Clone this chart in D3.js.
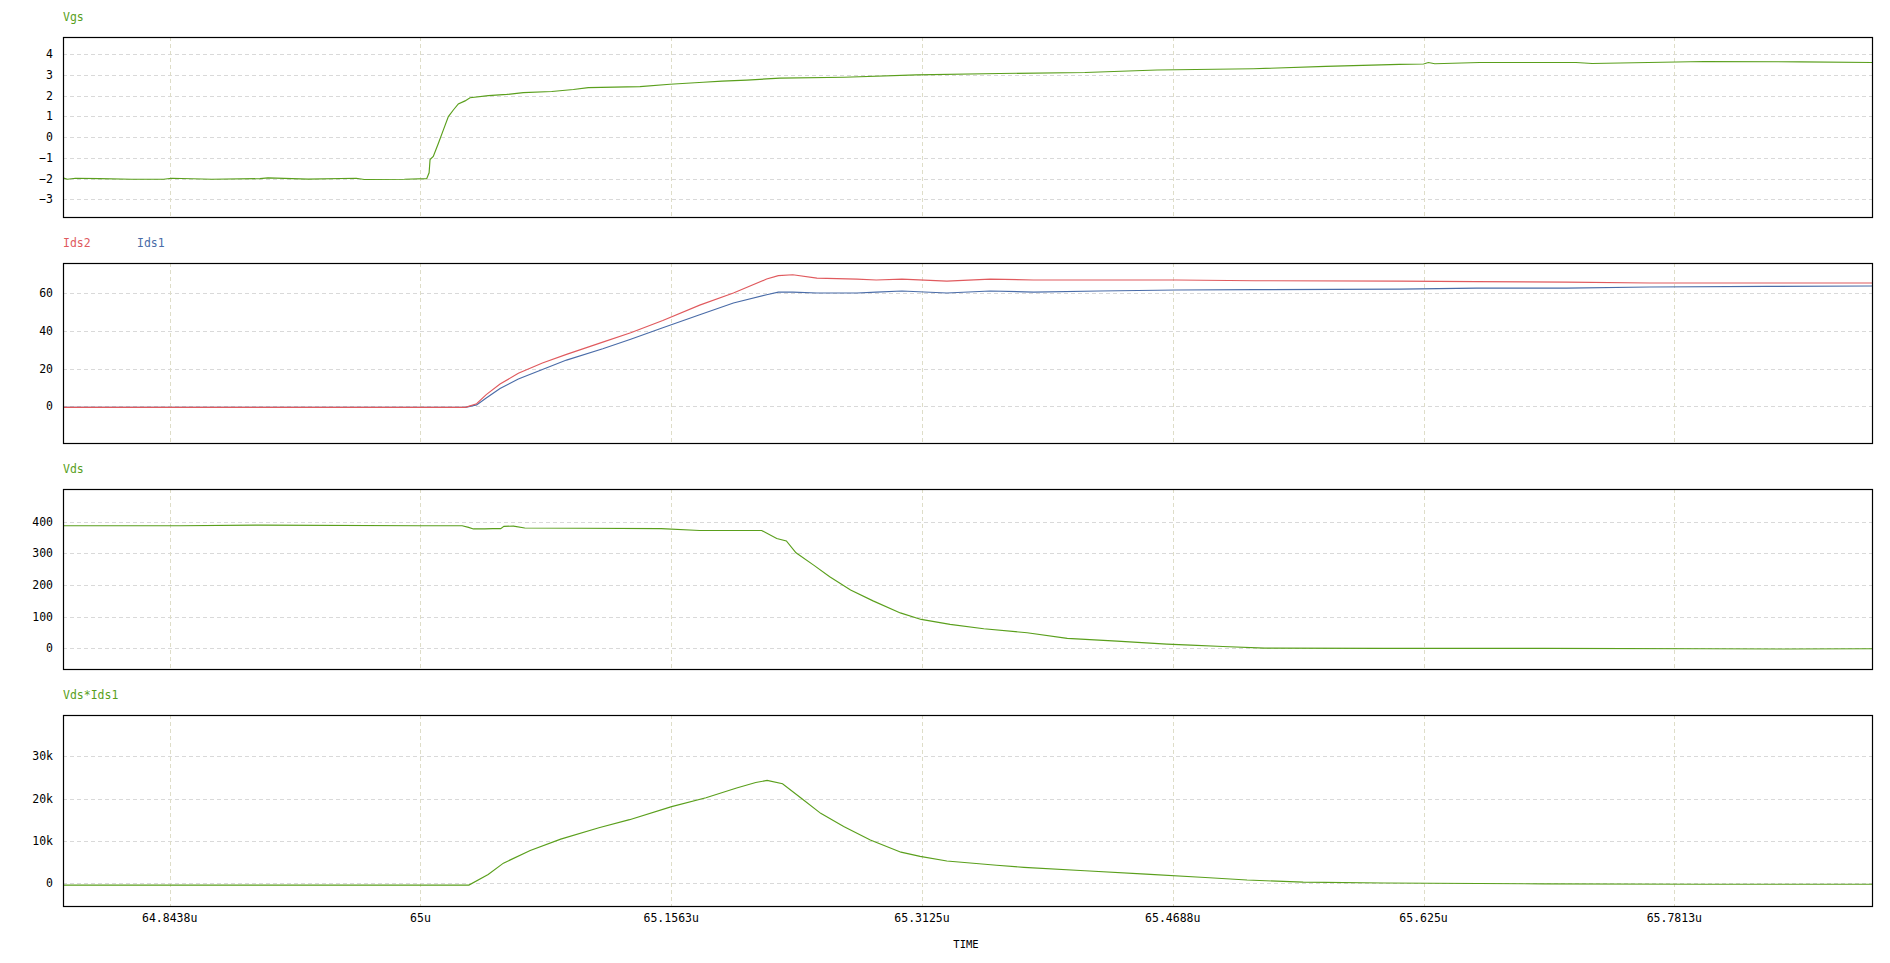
<!DOCTYPE html>
<html>
<head>
<meta charset="utf-8">
<script src="https://cdn.jsdelivr.net/npm/d3@7"></script>
<style>
  html, body { margin: 0; padding: 0; background: #fff; }
  svg { display: block; }
  text { font-family: "DejaVu Sans Mono", monospace; font-size: 11.5px; }
</style>
</head>
<body>
<svg id="chart" width="1890" height="963"></svg>
<script>
// ---------- DATA (time in microseconds) ----------
const xTickValues = [64.84375, 65, 65.15625, 65.3125, 65.46875, 65.625, 65.78125];
const xTickLabels = ["64.8438u", "65u", "65.1563u", "65.3125u", "65.4688u", "65.625u", "65.7813u"];

const vgsTicks = [-3, -2, -1, 0, 1, 2, 3, 4];
const idsTicks = [0, 20, 40, 60];
const vdsTicks = [0, 100, 200, 300, 400];
const powTicks = [0, 10000, 20000, 30000];
const powTickLabels = ["0", "10k", "20k", "30k"];

const vgsT = [64.7773, 64.780, 64.785, 64.80, 64.82, 64.84, 64.845, 64.87, 64.90, 64.905, 64.93, 64.96, 64.965, 64.99, 65.0039, 65.0054, 65.006, 65.008, 65.0112, 65.0143, 65.0174, 65.0205, 65.0236, 65.0278, 65.0309, 65.0423, 65.0538, 65.0641, 65.0818, 65.0953, 65.1046, 65.1368, 65.1555, 65.1762, 65.188, 65.2033, 65.224, 65.264, 65.309, 65.361, 65.414, 65.459, 65.519, 65.564, 65.61, 65.625, 65.628, 65.632, 65.66, 65.72, 65.73, 65.80, 65.86, 65.9044];
const vgsV = [-1.96, -2.03, -1.98, -2.0, -2.03, -2.03, -1.98, -2.03, -2.0, -1.96, -2.02, -1.98, -2.04, -2.03, -2.0, -1.72, -1.08, -0.93, -0.29, 0.35, 0.99, 1.31, 1.6, 1.75, 1.9, 2.0, 2.06, 2.15, 2.2, 2.3, 2.39, 2.44, 2.55, 2.65, 2.7, 2.75, 2.85, 2.89, 3.0, 3.07, 3.12, 3.24, 3.3, 3.41, 3.51, 3.53, 3.6, 3.54, 3.6, 3.6, 3.55, 3.65, 3.63, 3.6];

const idsT = [64.7773, 65.028, 65.035, 65.041, 65.0496, 65.061, 65.076, 65.091, 65.1136, 65.131, 65.151, 65.174, 65.195, 65.2157, 65.223, 65.232, 65.247, 65.272, 65.284, 65.30, 65.328, 65.355, 65.382, 65.423, 65.471, 65.52, 65.61, 65.658, 65.714, 65.766, 65.839, 65.9044];
const ids2V = [-0.5, -0.5, 1.4, 6.2, 11.8, 17.5, 23, 27.5, 34, 39, 45.5, 53.6, 60, 67.4, 69.2, 69.7, 67.9, 67.4, 66.9, 67.4, 66.3, 67.4, 66.9, 66.9, 66.9, 66.5, 66.3, 66, 65.8, 65.3, 65.3, 65.3];
const ids1V = [-0.5, -0.5, 0.8, 4.4, 9.4, 14.5, 19.5, 24.5, 30.5, 35.5, 41.6, 48.5, 54.7, 59.1, 60.5, 60.5, 60, 60, 60.5, 61.1, 60, 61.1, 60.5, 61.1, 61.6, 61.8, 62.1, 62.6, 62.6, 63.2, 63.5, 63.7];

const vdsT = [64.7773, 64.85, 64.90, 65.0, 65.026, 65.03, 65.033, 65.04, 65.045, 65.05, 65.052, 65.058, 65.065, 65.10, 65.15, 65.174, 65.2126, 65.222, 65.228, 65.234, 65.245, 65.255, 65.268, 65.282, 65.299, 65.312, 65.33, 65.351, 65.378, 65.403, 65.434, 65.465, 65.48, 65.50, 65.526, 65.60, 65.70, 65.80, 65.85, 65.9044];
const vdsV = [387, 387, 389, 387, 387, 382, 377, 377, 378, 378, 385, 386, 380, 379, 378, 372, 372, 347, 339, 301.6, 262.8, 226, 184, 150, 112, 91.4, 75.7, 62, 49.3, 31.5, 23, 13.6, 10.4, 6, 1, 0, 0, -1, -2, -1];

const powT = [64.7773, 64.84, 64.90, 64.95, 65.0302, 65.0422, 65.0517, 65.0684, 65.0874, 65.1112, 65.1303, 65.1565, 65.1779, 65.197, 65.2089, 65.216, 65.2256, 65.2375, 65.2494, 65.2637, 65.2803, 65.2994, 65.3113, 65.328, 65.359, 65.376, 65.414, 65.452, 65.489, 65.515, 65.55, 65.60, 65.70, 65.80, 65.9044];
const powV = [-500, -500, -500, -500, -500, 2000, 4700, 7700, 10400, 13100, 15000, 18100, 20200, 22500, 23800, 24300, 23500, 20000, 16500, 13400, 10200, 7300, 6300, 5200, 4200, 3700, 2900, 2100, 1300, 700, 200, 0, -200, -300, -300];

// ---------- STYLE / LAYOUT ----------
const GREEN = "#5a9f1c", RED = "#e05a5e", BLUE = "#4a6ca8";
const plotLeft = 63, plotRight = 1872;

const svg = d3.select("#chart");
const x = d3.scaleLinear().domain([64.7773, 65.9044]).range([plotLeft, plotRight]);

function panel(opts) {
  const y = d3.scaleLinear().domain(opts.domain).range([opts.bottom, opts.top]);
  const g = svg.append("g");

  g.selectAll(".hg").data(opts.ticks).join("line")
    .attr("x1", plotLeft).attr("x2", plotRight)
    .attr("y1", d => Math.round(y(d)) + 0.5).attr("y2", d => Math.round(y(d)) + 0.5)
    .attr("stroke", "#d9d9d9").attr("stroke-width", 1).attr("stroke-dasharray", "4,3");
  g.selectAll(".vg").data(xTickValues).join("line")
    .attr("x1", d => Math.round(x(d)) + 0.5).attr("x2", d => Math.round(x(d)) + 0.5)
    .attr("y1", opts.top).attr("y2", opts.bottom)
    .attr("stroke", "#deddc8").attr("stroke-width", 1).attr("stroke-dasharray", "4,3");

  g.selectAll(".yl").data(opts.ticks).join("text")
    .attr("x", 53).attr("y", d => y(d)).attr("dy", "0.35em")
    .attr("text-anchor", "end").attr("fill", "#000")
    .text((d, i) => opts.tickLabels ? opts.tickLabels[i] : d3.format("d")(d));

  const clipId = "clip" + opts.top;
  svg.append("clipPath").attr("id", clipId).append("rect")
    .attr("x", plotLeft).attr("y", opts.top).attr("width", plotRight - plotLeft).attr("height", opts.bottom - opts.top);
  opts.series.forEach(s => {
    const line = d3.line().x((d, i) => x(s.t[i])).y(d => y(d));
    g.append("path").datum(s.v)
      .attr("clip-path", `url(#${clipId})`)
      .attr("fill", "none").attr("stroke", s.color).attr("stroke-width", 1.15)
      .attr("d", line);
  });

  g.append("rect")
    .attr("x", plotLeft + 0.5).attr("y", opts.top + 0.5)
    .attr("width", plotRight - plotLeft).attr("height", opts.bottom - opts.top)
    .attr("fill", "none").attr("stroke", "#000").attr("stroke-width", 1.2);

  opts.labels.forEach(l => {
    g.append("text").attr("x", l.x).attr("y", opts.top - 20).attr("dy", "0.35em")
      .attr("fill", l.color).text(l.text);
  });
  return y;
}

panel({ top: 37, bottom: 217, domain: [-3.85, 4.83], ticks: vgsTicks,
  series: [{ t: vgsT, v: vgsV, color: GREEN }],
  labels: [{ text: "Vgs", x: 63, color: GREEN }] });

panel({ top: 263, bottom: 443, domain: [-19.4, 75.9], ticks: idsTicks,
  series: [{ t: idsT, v: ids1V, color: BLUE }, { t: idsT, v: ids2V, color: RED }],
  labels: [{ text: "Ids2", x: 63, color: RED }, { text: "Ids1", x: 137, color: BLUE }] });

panel({ top: 489, bottom: 669, domain: [-65, 503], ticks: vdsTicks,
  series: [{ t: vdsT, v: vdsV, color: GREEN }],
  labels: [{ text: "Vds", x: 63, color: GREEN }] });

panel({ top: 715, bottom: 906, domain: [-5450, 39800], ticks: powTicks, tickLabels: powTickLabels,
  series: [{ t: powT, v: powV, color: GREEN }],
  labels: [{ text: "Vds*Ids1", x: 63, color: GREEN }] });

svg.selectAll(".xl").data(xTickValues).join("text")
  .attr("x", d => x(d)).attr("y", 918).attr("dy", "0.35em")
  .attr("text-anchor", "middle").attr("fill", "#000")
  .text((d, i) => xTickLabels[i]);

svg.append("text").attr("x", 966).attr("y", 944).attr("dy", "0.35em")
  .attr("text-anchor", "middle").attr("fill", "#000").style("font-size", "10.5px").text("TIME");
</script>
</body>
</html>
